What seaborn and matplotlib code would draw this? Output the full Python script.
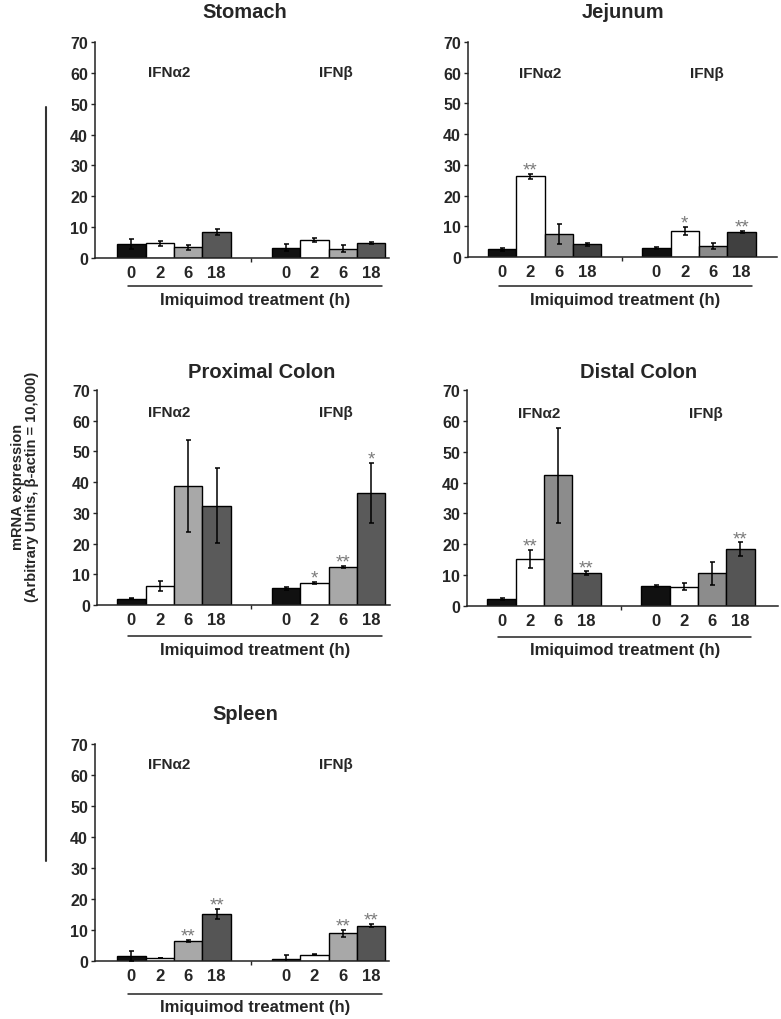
import numpy as np
import pandas as pd
import matplotlib
matplotlib.use("Agg")
import matplotlib.pyplot as plt
import seaborn as sns
from matplotlib.lines import Line2D
from matplotlib.ticker import FixedLocator

# ---------------- data ----------------
tissues = ["Stomach", "Jejunum", "Proximal Colon", "Distal Colon", "Spleen"]
genes = ["IFN\u03b12", "IFN\u03b2"]
times = ["0", "2", "6", "18"]
xlabel_text = "Imiquimod treatment (h)"
ylabel_text = "mRNA expression\n(Arbitrary Units, \u03b2-actin = 10,000)"
yticks = [0, 10, 20, 30, 40, 50, 60, 70]

stomach_ifna2 = [4.5, 4.7, 3.5, 8.4]
stomach_ifna2_err = [1.6, 0.8, 0.8, 1.0]
stomach_ifnb = [3.4, 5.9, 3.0, 4.8]
stomach_ifnb_err = [1.0, 0.7, 1.2, 0.3]
stomach_stars = ["", "", "", "", "", "", "", ""]

jejunum_ifna2 = [2.5, 26.3, 7.6, 4.1]
jejunum_ifna2_err = [0.4, 0.8, 3.3, 0.5]
jejunum_ifnb = [2.9, 8.6, 3.7, 8.1]
jejunum_ifnb_err = [0.4, 1.3, 1.0, 0.4]
jejunum_stars = ["", "**", "", "", "", "*", "", "**"]

prox_ifna2 = [2.1, 6.1, 38.7, 32.3]
prox_ifna2_err = [0.3, 1.7, 15.0, 12.2]
prox_ifnb = [5.4, 7.2, 12.4, 36.5]
prox_ifnb_err = [0.4, 0.4, 0.3, 9.8]
prox_stars = ["", "", "", "", "", "*", "**", "*"]

distal_ifna2 = [2.3, 15.3, 42.3, 10.7]
distal_ifna2_err = [0.3, 3.0, 15.3, 0.5]
distal_ifnb = [6.5, 6.3, 10.6, 18.4]
distal_ifnb_err = [0.3, 1.2, 3.7, 2.2]
distal_stars = ["", "**", "", "**", "", "", "", "**"]

spleen_ifna2 = [1.6, 1.0, 6.4, 15.2]
spleen_ifna2_err = [1.7, 0.1, 0.4, 1.5]
spleen_ifnb = [0.6, 2.0, 9.0, 11.4]
spleen_ifnb_err = [1.3, 0.1, 1.1, 0.5]
spleen_stars = ["", "", "**", "**", "", "", "**", "**"]

panel_values = [
    (stomach_ifna2, stomach_ifnb, stomach_ifna2_err, stomach_ifnb_err, stomach_stars),
    (jejunum_ifna2, jejunum_ifnb, jejunum_ifna2_err, jejunum_ifnb_err, jejunum_stars),
    (prox_ifna2, prox_ifnb, prox_ifna2_err, prox_ifnb_err, prox_stars),
    (distal_ifna2, distal_ifnb, distal_ifna2_err, distal_ifnb_err, distal_stars),
    (spleen_ifna2, spleen_ifnb, spleen_ifna2_err, spleen_ifnb_err, spleen_stars),
]

# ---------------- style / layout ----------------
sns.set_style("white")
plt.rcParams["font.family"] = ["Liberation Sans", "DejaVu Sans"]
plt.rcParams["font.weight"] = "bold"

W, H = 781, 1020
fig = plt.figure(figsize=(W / 100, H / 100), dpi=100)

# axes boxes in pixels: left, top, right, bottom, group-1 centre px, px per unit
boxes = [
    (95, 43, 389, 259, 174.0, 154.5),
    (468, 43, 777, 258, 544.5, 154.5),
    (97, 391, 390, 606, 174.0, 154.5),
    (467, 391, 778, 607, 544.0, 154.0),
    (95, 745, 389, 962, 174.0, 154.5),
]
title_pos = [(245, 12), (623, 12), (262, 373), (639, 373), (245, 715)]
gene_label_y = [60.3, 60.0, 62.8, 62.5, 63.5]
underline_off = [28, 29, 31, 31, 33]
six_colors = ["#a8a8a8", "#8a8a8a", "#a8a8a8", "#8c8c8c", "#a8a8a8"]
eighteen_colors = ["#585858", "#404040", "#5a5a5a", "#555555", "#555555"]

for i, tissue in enumerate(tissues):
    l, t, r, b, c0, ppu = boxes[i]
    ax = fig.add_axes([l / W, 1 - b / H, (r - l) / W, (b - t) / H])
    a_vals, b_vals, a_err, b_err, stars = panel_values[i]
    df = pd.DataFrame({
        "gene": [genes[0]] * 4 + [genes[1]] * 4,
        "time": times + times,
        "value": a_vals + b_vals,
    })
    pal = {"0": "#111111", "2": "#ffffff", "6": six_colors[i], "18": eighteen_colors[i]}
    sns.barplot(data=df, x="gene", y="value", hue="time", hue_order=times,
                order=genes, palette=pal, width=0.735, edgecolor="black",
                linewidth=1.0, errorbar=None, legend=False, ax=ax, saturation=1)

    patches = sorted(ax.patches, key=lambda p: p.get_x())
    xs = [p.get_x() + p.get_width() / 2 for p in patches]
    hs = [p.get_height() for p in patches]
    errs = a_err + b_err
    ax.errorbar(xs, hs, yerr=errs, fmt="none", ecolor="black",
                elinewidth=1.1, capsize=1.8, capthick=1.1, zorder=5)
    for x, h, e, s in zip(xs, hs, errs, stars):
        if s:
            ax.annotate(s, xy=(x, h + e), xytext=(0, -0.5), textcoords="offset points",
                        ha="center", va="baseline", fontsize=13.5, fontweight="normal",
                        color="#7a7a7a")

    ax.set_ylim(0, 70)
    ax.set_xlim((l - c0) / ppu, (r - c0) / ppu)
    ax.set_yticks(yticks)
    ax.set_yticklabels([str(v) for v in yticks], fontsize=11.5, fontweight="bold")
    ax.set_xticks(xs)
    ax.set_xticklabels(times + times, fontsize=12, fontweight="bold")
    ax.xaxis.set_minor_locator(FixedLocator([0.5]))
    ax.tick_params(axis="x", which="major", length=0, pad=5)
    ax.tick_params(axis="x", which="minor", length=3, width=1.0, direction="out", bottom=True)
    ax.tick_params(axis="y", length=3, width=1.0, direction="out", left=True, pad=2)
    ax.set_xlabel("")
    ax.set_ylabel("")
    sns.despine(ax=ax)
    for sp in ["left", "bottom"]:
        ax.spines[sp].set_color("#222222")
        ax.spines[sp].set_linewidth(1.1)

    # gene labels
    ax.text(-0.03, gene_label_y[i], genes[0], ha="center", va="center",
            fontsize=11, fontweight="bold")
    ax.text(1.05, gene_label_y[i], genes[1], ha="center", va="center",
            fontsize=11, fontweight="bold")

    # underline and treatment label
    hpx = b - t
    trans = ax.get_xaxis_transform()
    x0, x1 = xs[0] - 0.02, xs[-1] + 0.07
    ax.add_line(Line2D([x0, x1], [-underline_off[i] / hpx] * 2, transform=trans,
                       color="#222222", lw=1.1, clip_on=False))
    ax.text((x0 + x1) / 2, -(underline_off[i] + 13) / hpx, xlabel_text, transform=trans,
            ha="center", va="center", fontsize=12, fontweight="bold")

    tx, ty = title_pos[i]
    fig.text(tx / W, 1 - ty / H, tissue, ha="center", va="center",
             fontsize=14.5, fontweight="bold")

# shared y label and bracket line
fig.text(25 / W, 1 - 487 / H, ylabel_text, rotation=90, ha="center", va="center",
         fontsize=10.5, fontweight="bold", multialignment="center", linespacing=1.0)
fig.add_artist(Line2D([45.5 / W, 45.5 / W], [1 - 108 / H, 1 - 862 / H],
                      transform=fig.transFigure, color="#333333", lw=1.5))

fig.savefig("out.png", dpi=100, facecolor="white")
